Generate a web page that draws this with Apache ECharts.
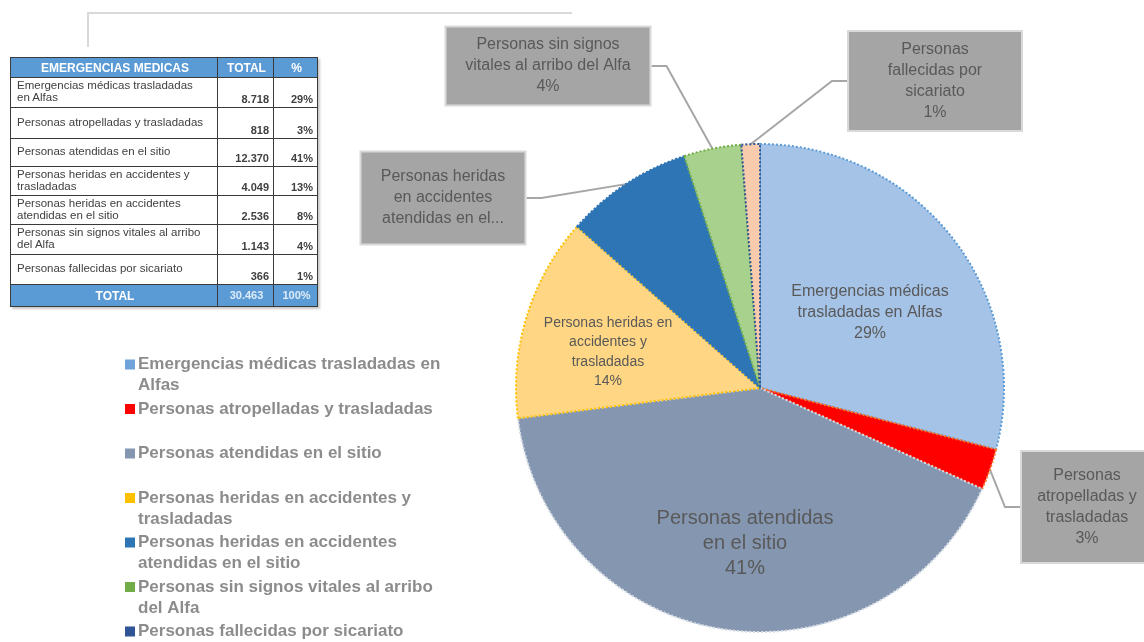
<!DOCTYPE html>
<html>
<head>
<meta charset="utf-8">
<script src="https://cdn.jsdelivr.net/npm/echarts@6/dist/echarts.min.js"></script>
<style>
html, body { margin: 0; padding: 0; background: #fff; }
#chart { position: absolute; left: 0; top: 0; width: 1144px; height: 642px; }
#tabla {
  position: absolute; left: 10px; top: 57px;
  border-collapse: collapse; table-layout: fixed;
  font-family: 'Liberation Sans', Arial, sans-serif; font-size: 11.5px; color: #404040;
  box-shadow: 2px 2px 2px #c8c8c8;
}
#tabla td { border: 1px solid #3a3a3a; padding: 0 4px 0 6px; overflow: hidden; white-space: nowrap; }
#tabla tr.head td, #tabla tr.total td {
  background: #5B9BD5; color: #fff; font-weight: bold; text-align: center; font-size: 12px;
}
#tabla tr.total td.num { color: #DDEBF7; font-size: 11px; }
#tabla td.lab { vertical-align: middle; padding-bottom: 3px; line-height: 12px; }
#tabla td.num { text-align: right; vertical-align: bottom; font-weight: bold; padding-bottom: 2px; font-size: 11px; }
</style>
</head>
<body>
<div id="chart"></div>
<table id="tabla"></table>
<script>
// categorias y valores (tabla EMERGENCIAS MEDICAS)
const categories = [
  'Emergencias médicas trasladadas en Alfas',
  'Personas atropelladas y trasladadas',
  'Personas atendidas en el sitio',
  'Personas heridas en accidentes y trasladadas',
  'Personas heridas en accidentes atendidas en el sitio',
  'Personas sin signos vitales al arribo del Alfa',
  'Personas fallecidas por sicariato'
];
const totals = [8718, 818, 12370, 4049, 2536, 1143, 366];
const totalGeneral = 30463;
const tablePct = ['29%', '3%', '41%', '13%', '8%', '4%', '1%'];
const tableRowLabels = [
  'Emergencias médicas trasladadas\nen Alfas',
  'Personas atropelladas y trasladadas',
  'Personas atendidas en el sitio',
  'Personas heridas en accidentes y\ntrasladadas',
  'Personas heridas en accidentes\natendidas en el sitio',
  'Personas sin signos vitales al arribo\ndel Alfa',
  'Personas fallecidas por sicariato'
];
// textos de etiquetas del pastel
const pieLabelNames = [
  'Emergencias médicas\ntrasladadas en Alfas',
  'Personas\natropelladas y\ntrasladadas',
  'Personas atendidas\nen el sitio',
  'Personas heridas en\naccidentes y\ntrasladadas',
  'Personas heridas\nen accidentes\natendidas en el...',
  'Personas sin signos\nvitales al arribo del Alfa',
  'Personas\nfallecidas por\nsicariato'
];
const pieLabelPct = ['29%', '3%', '41%', '14%', '', '4%', '1%'];
const legendLines = [
  ['Emergencias médicas trasladadas en', 'Alfas'],
  ['Personas atropelladas y trasladadas'],
  ['Personas atendidas en el sitio'],
  ['Personas heridas en accidentes y', 'trasladadas'],
  ['Personas heridas en accidentes', 'atendidas en el sitio'],
  ['Personas sin signos vitales al arribo', 'del Alfa'],
  ['Personas fallecidas por sicariato']
];

// colores
const fillColors = ['#A5C3E7', '#FF0000', '#8496B0', '#FFD683', '#2E75B6', '#A9D18E', '#F8CBAD'];
const borderColors = ['#5B9BD5', '#F4792E', '#D6DCE5', '#FFC000', '#2E75B6', '#70AD47', '#2F5597'];
const iconColors = ['#6FA3DA', '#FF0000', '#8496B0', '#FFC000', '#2E75B6', '#70AD47', '#2F5597'];

function miles(n) {
  return String(n).replace(/\B(?=(\d{3})+(?!\d))/g, '.');
}

// ---- tabla ----
const widths = [207, 56, 44];
const rowHeights = [30, 31, 28, 29, 29, 30, 30];
let html = '<colgroup>' + widths.map(w => '<col style="width:' + w + 'px">').join('') + '</colgroup>';
html += '<tr class="head" style="height:20px"><td>EMERGENCIAS MEDICAS</td><td>TOTAL</td><td>%</td></tr>';
categories.forEach((c, i) => {
  html += '<tr style="height:' + rowHeights[i] + 'px"><td class="lab">' + tableRowLabels[i].replace('\n', '<br>') +
    '</td><td class="num">' + miles(totals[i]) + '</td><td class="num">' + tablePct[i] + '</td></tr>';
});
html += '<tr class="total" style="height:22px"><td>TOTAL</td><td class="num" style="text-align:center;vertical-align:middle">' +
  miles(totalGeneral) + '</td><td class="num" style="text-align:center;vertical-align:middle">100%</td></tr>';
document.getElementById('tabla').innerHTML = html;

// ---- grafico ----
const chart = echarts.init(document.getElementById('chart'));

const legendRich = { t: { fontSize: 17, fontWeight: 'bold', color: '#8C8C8C', lineHeight: 21 },
  g: { width: 3, lineHeight: 21 }, s: { width: 13, lineHeight: 21 } };
iconColors.forEach((c, i) => {
  legendRich['i' + i] = { width: 10, height: 10, backgroundColor: c, lineHeight: 21 };
});

// cajas y posiciones de etiquetas
const labelPos = [[870, 313], [1087, 507], [745, 543], [608, 352], [443, 198], [548, 66], [935, 81]];
const boxLabel = (w, pad) => ({
  position: 'outside', backgroundColor: '#A5A5A5', borderColor: '#D9D9D9', borderWidth: 2,
  width: w, padding: pad, align: 'center', color: '#595959', fontSize: 16, lineHeight: 21
});
const labelStyles = [
  { position: 'inside', fontSize: 16, lineHeight: 21 },
  boxLabel(110, [13, 10]),
  { position: 'inside', fontSize: 20, lineHeight: 25 },
  { position: 'inside', fontSize: 14, lineHeight: 19.5 },
  boxLabel(143, [14, 10]),
  boxLabel(183, [7, 10]),
  boxLabel(152, [7, 10])
];

const option = {
  animation: false,
  textStyle: { fontFamily: "'Liberation Sans', Arial, sans-serif" },
  graphic: [{
    type: 'polyline', silent: true,
    shape: { points: [[88, 47], [88, 13], [572, 13]] },
    style: { stroke: '#D9D9D9', lineWidth: 2, fill: null }
  }],
  legend: {
    orient: 'vertical', left: 119, top: 356, height: 300, padding: 0,
    itemWidth: 0, itemHeight: 0, itemGap: 6.5,
    selectedMode: false,
    data: categories,
    formatter: name => {
      const i = categories.indexOf(name);
      const l = legendLines[i];
      if (l[1]) return '{i' + i + '|}{g|}{t|' + l[0] + '}\n{s|}{t|' + l[1] + '}';
      // el ultimo no necesita segunda linea
      return '{i' + i + '|}{g|}{t|' + l[0] + '}' + (i < categories.length - 1 ? '\n{s|}{t| }' : '');
    },
    textStyle: { rich: legendRich }
  },
  series: [{
    type: 'pie',
    center: [760, 388],
    radius: 244,
    startAngle: 90,
    clockwise: true,
    emphasis: { disabled: true },
    data: categories.map((name, i) => ({
      name: name,
      value: totals[i],
      itemStyle: { color: fillColors[i], borderColor: borderColors[i], borderType: 'dotted', borderWidth: 2 },
      label: labelStyles[i]
    })),
    label: {
      color: '#595959',
      formatter: p => pieLabelNames[p.dataIndex] + (pieLabelPct[p.dataIndex] ? '\n' + pieLabelPct[p.dataIndex] : '')
    },
    labelLine: { show: true, length: 15, length2: 15, lineStyle: { color: '#A6A6A6', width: 2 } },
    labelLayout: p => {
      const pos = labelPos[p.dataIndex];
      return { x: pos[0], y: pos[1], align: 'center', verticalAlign: 'middle' };
    }
  }]
};

chart.setOption(option);
</script>
</body>
</html>
